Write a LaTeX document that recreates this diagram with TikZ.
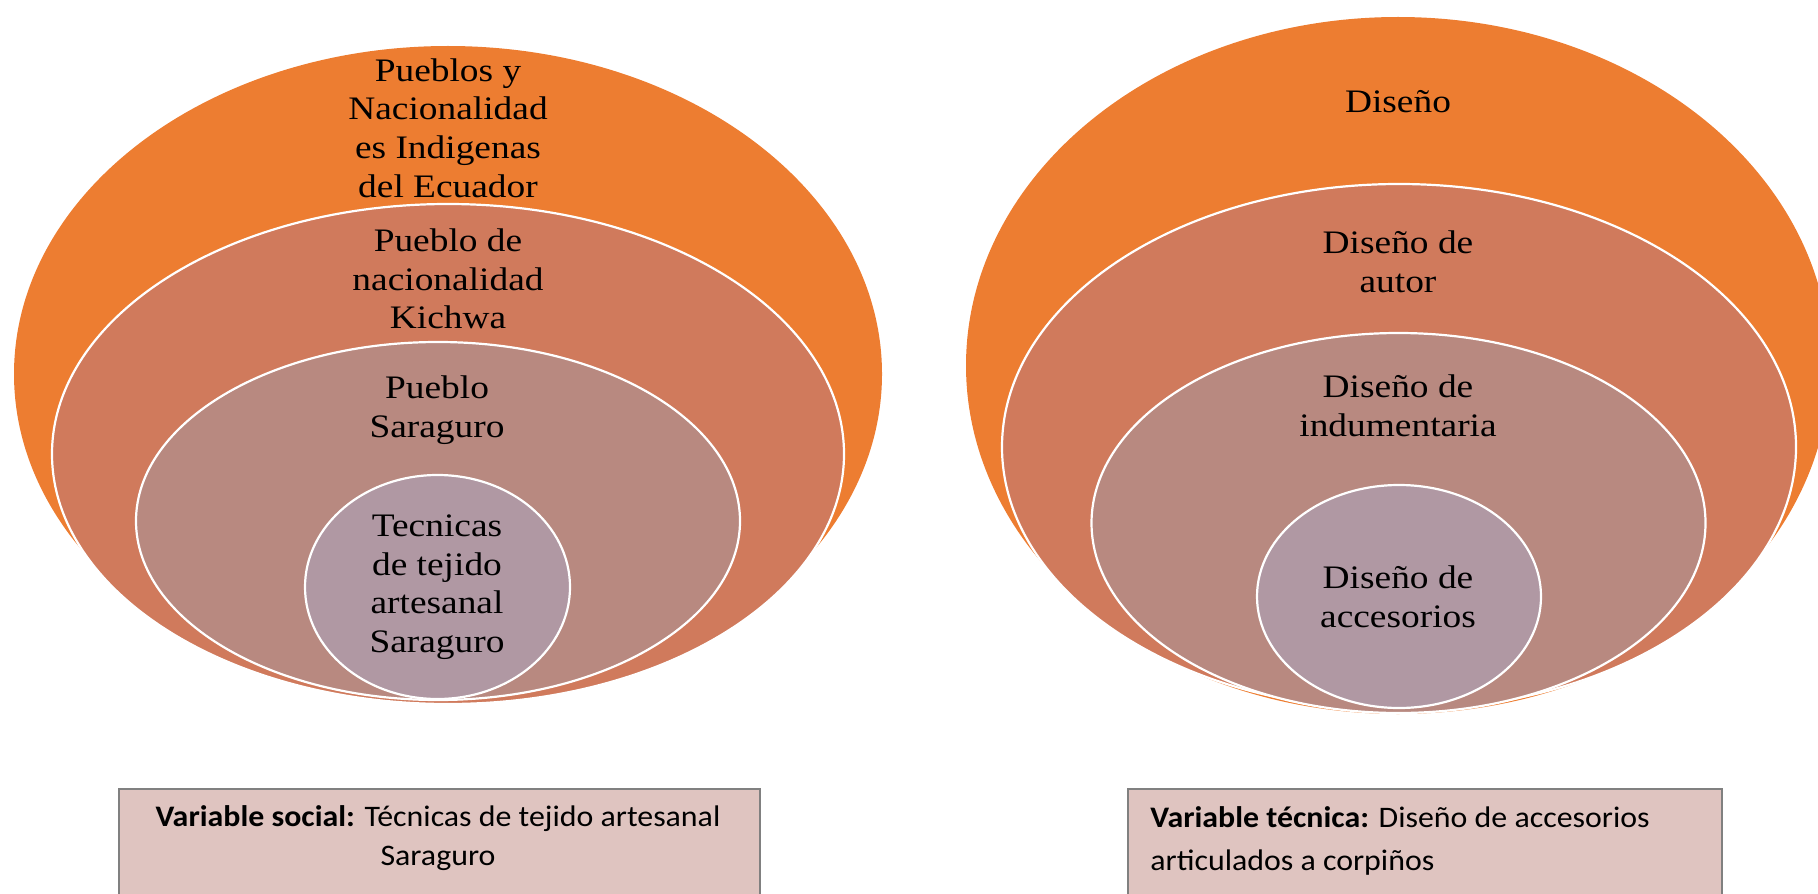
\documentclass[tikz,border=0pt]{standalone}
\usepackage{fontspec}
\setmainfont{Liberation Serif}
\newfontfamily\lblfont[FakeStretch=1.14]{Liberation Serif}
\newfontfamily\boxfont[FakeStretch=1.07]{Carlito}
\usetikzlibrary{shapes.geometric}
\definecolor{corange}{HTML}{ED7D31}
\definecolor{csalmon}{HTML}{D07A5C}
\definecolor{cmauve}{HTML}{B88980}
\definecolor{clilac}{HTML}{B098A3}
\definecolor{cbox}{HTML}{DFC4C0}
\definecolor{cboxline}{HTML}{808080}
\begin{document}
\begin{tikzpicture}[x=0.5pt,y=-0.5pt,
  ring/.style={ellipse, draw=white, line width=1.1pt, inner sep=0pt},
  outer/.style={ellipse, fill=corange, inner sep=0pt},
  lbl/.style={align=center, inner sep=0pt, font=\lblfont\fontsize{16.4}{19.3}\selectfont, text=black},
  varbox/.style={rectangle, draw=cboxline, fill=cbox, line width=1pt, inner sep=0pt, anchor=north west},
  vartext/.style={inner sep=0pt, text=black}]
\useasboundingbox (0,0) rectangle (1818,893);
\clip (0,0) rectangle (1818,893);
% left target
\node[outer, minimum width=434pt, minimum height=328pt] (l1) at (448,374) {};
\node[ring, fill=csalmon, minimum width=396pt, minimum height=250pt] (l2) at (448,454) {};
\node[ring, fill=cmauve, minimum width=302pt, minimum height=179pt] (l3) at (438,521) {};
\node[ring, fill=clilac, minimum width=132.5pt, minimum height=112pt] (l4) at (437.5,587) {};
\node[lbl] (tl1) at (448,128) {Pueblos y\\Nacionalidad\\es Indigenas\\del Ecuador};
\node[lbl] (tl2) at (448,279) {Pueblo de\\nacionalidad\\Kichwa};
\node[lbl] (tl3) at (437,410) {Pueblo\\Saraguro};
\node[lbl] (tl4) at (437,587) {Tecnicas\\de tejido\\artesanal\\Saraguro};
% right target
\node[outer, minimum width=432pt, minimum height=348.5pt] (r1) at (1398,365.5) {};
\node[ring, fill=csalmon, minimum width=397pt, minimum height=263pt] (r2) at (1399,447) {};
\node[ring, fill=cmauve, minimum width=307pt, minimum height=190pt] (r3) at (1398.5,523) {};
\node[ring, fill=clilac, minimum width=142pt, minimum height=111.5pt] (r4) at (1399,596.5) {};
\node[lbl] (tr1) at (1398,102) {Diseño};
\node[lbl] (tr2) at (1398,262) {Diseño de\\autor};
\node[lbl] (tr3) at (1398,406) {Diseño de\\indumentaria};
\node[lbl] (tr4) at (1398,597) {Diseño de\\accesorios};
% variable boxes
\node[varbox, minimum width=320.5pt, minimum height=60pt] (lbox) at (118,788) {};
\node[vartext, align=center, font=\boxfont\fontsize{14.9}{19.8}\selectfont] (lboxt) at (438,838) {\textbf{Variable social:} Técnicas de tejido artesanal\\Saraguro};
\node[varbox, minimum width=297pt, minimum height=60pt] (rbox) at (1127,788) {};
\node[vartext, align=left, anchor=west, font=\boxfont\fontsize{14.9}{21.3}\selectfont] (rboxt) at (1150,841) {\textbf{Variable técnica:} Diseño de accesorios\\articulados a corpiños};
\end{tikzpicture}
\end{document}
